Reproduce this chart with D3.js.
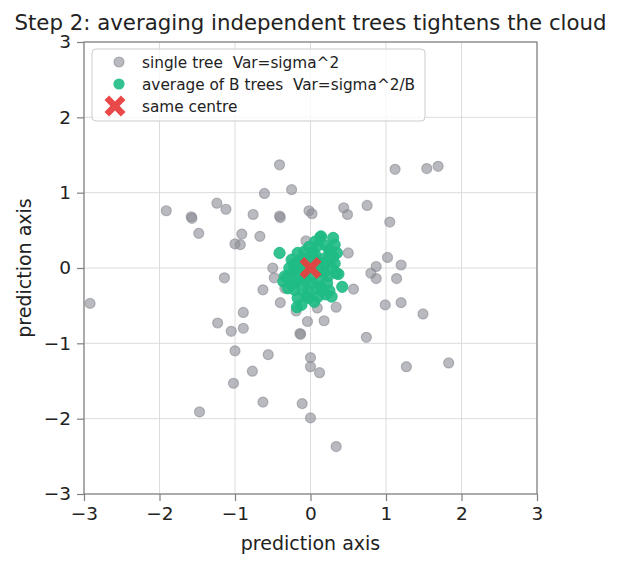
<!DOCTYPE html>
<html><head><meta charset="utf-8">
<script src="https://cdn.jsdelivr.net/npm/d3@7"></script>
<style>body{margin:0;background:#fff}svg{display:block;font-family:"DejaVu Sans",sans-serif}</style>
</head><body><svg id="c" width="620" height="567"></svg>
<script>
const singleX = [-2.92,-1.91,-1.58,-1.57,-1.48,-1.24,-1.12,-1.14,-1.00,-0.93,-0.91,-0.76,-0.67,-0.61,-0.41,-0.25,-0.41,-0.40,-0.02,0.02,-0.06,-0.50,-0.48,-0.63,-0.40,-0.19,-0.04,-0.14,-0.13,-0.89,-1.23,-1.05,-0.89,-1.00,-0.56,-0.77,-1.02,-0.63,-0.11,0.00,-1.47,0.00,0.00,0.12,0.34,1.27,1.83,0.74,1.49,1.20,0.99,0.18,0.34,0.09,0.57,1.14,0.87,0.80,1.20,0.87,1.02,0.50,1.05,0.75,0.49,0.44,1.12,1.54,1.69,-0.34];
const singleY = [-0.47,0.76,0.68,0.66,0.46,0.86,0.78,-0.13,0.32,0.31,0.45,0.71,0.42,0.99,1.37,1.04,0.69,0.67,0.76,0.72,0.36,0.00,-0.13,-0.29,-0.46,-0.57,-0.71,-0.87,-0.88,-0.59,-0.73,-0.84,-0.80,-1.10,-1.15,-1.37,-1.53,-1.78,-1.80,-1.99,-1.91,-1.19,-1.31,-1.39,-2.37,-1.31,-1.26,-0.92,-0.61,-0.46,-0.49,-0.70,-0.52,-0.53,-0.28,-0.14,-0.14,-0.07,0.04,0.02,0.14,0.20,0.61,0.83,0.71,0.80,1.31,1.32,1.35,-0.27];
const avgX = [-0.41,0.14,0.30,0.32,0.25,0.06,-0.17,-0.08,-0.25,0.32,0.34,0.37,-0.34,-0.36,-0.30,0.42,0.28,-0.17,-0.12,-0.18,0.10,0.14,-0.21,-0.03,0.23,-0.23,0.19,0.06,-0.14,0.01,-0.12,0.10,0.26,0.13,0.05,-0.05,0.12,-0.08,0.18,-0.18,0.02,0.20,-0.10,0.05,0.25,-0.28,0.30,-0.02,0.08,
  -0.20,0.22,-0.06,0.15,-0.15,0.00,0.28,-0.25,0.08,-0.02,0.18,-0.10,0.35,-0.30,0.03,0.12,-0.22,0.20,0.24,-0.05,0.10];
const avgY = [0.20,0.42,0.40,0.31,0.24,0.35,0.20,0.22,0.11,0.06,-0.07,-0.08,-0.11,-0.18,-0.27,-0.25,-0.38,-0.40,-0.49,-0.52,-0.38,-0.25,-0.29,-0.29,-0.11,-0.05,0.13,0.18,0.06,-0.11,-0.16,-0.18,0.23,0.41,0.05,-0.03,0.02,0.12,-0.05,-0.08,-0.20,0.30,-0.30,-0.45,-0.30,0.00,0.15,0.28,0.10,
  -0.20,-0.20,-0.15,-0.30,0.10,0.15,0.00,-0.22,-0.28,-0.40,0.05,0.00,0.20,-0.12,0.22,-0.05,0.05,-0.35,0.12,-0.38,0.30];
const centre = [[0.0, 0.0]];
const ticks = [-3,-2,-1,0,1,2,3];
const legendLabels = ["single tree  Var=sigma^2","average of B trees  Var=sigma^2/B","same centre"];
const titleText = "Step 2: averaging independent trees tightens the cloud";
const axisLabel = "prediction axis";

const svg = d3.select("#c");
const L=84,R=537,T=42,B=494;
const x = d3.scaleLinear().domain([-3,3]).range([L,R]);
const y = d3.scaleLinear().domain([-3,3]).range([B,T]);
const GRAY="#8a8c94", GREEN="#1fbb85", RED="#e8403f";
const fmt = d => d<0 ? "\u2212"+Math.abs(d) : String(d);

const g = svg.append("g");
g.selectAll(".gx").data(ticks).join("line").attr("x1",d=>x(d)).attr("x2",d=>x(d)).attr("y1",T).attr("y2",B).attr("stroke","#d8d8d8").attr("stroke-width",0.9);
g.selectAll(".gy").data(ticks).join("line").attr("y1",d=>y(d)).attr("y2",d=>y(d)).attr("x1",L).attr("x2",R).attr("stroke","#d8d8d8").attr("stroke-width",0.9);

svg.append("g").selectAll("circle").data(singleX.map((v,i)=>[v,singleY[i]])).join("circle")
  .attr("cx",d=>x(d[0])).attr("cy",d=>y(d[1])).attr("r",5)
  .attr("fill",GRAY).attr("fill-opacity",0.6).attr("stroke",GRAY).attr("stroke-opacity",0.6).attr("stroke-width",1.2);
svg.append("g").selectAll("circle").data(avgX.map((v,i)=>[v,avgY[i]])).join("circle")
  .attr("cx",d=>x(d[0])).attr("cy",d=>y(d[1])).attr("r",5.6)
  .attr("fill",GREEN).attr("fill-opacity",0.9).attr("stroke",GREEN).attr("stroke-opacity",0.9).attr("stroke-width",1);

function xPath(s){
  const a=s*0.44;
  const p=[[-s,-s+a],[-s+a,-s],[0,-a],[s-a,-s],[s,-s+a],[a,0],[s,s-a],[s-a,s],[0,a],[-s+a,s],[-s,s-a],[-a,0]];
  return "M"+p.map(q=>q.join(",")).join("L")+"Z";
}
svg.append("g").selectAll("path").data(centre).join("path")
  .attr("transform",d=>`translate(${x(d[0])},${y(d[1])})`).attr("d",xPath(11)).attr("fill",RED).attr("fill-opacity",0.95);

svg.append("rect").attr("x",L).attr("y",T).attr("width",R-L).attr("height",B-T).attr("fill","none").attr("stroke","#7f7f7f").attr("stroke-width",1.2);

const xa = svg.append("g").attr("transform",`translate(0,${B})`).call(d3.axisBottom(x).tickValues(ticks).tickFormat(fmt).tickSize(7).tickPadding(6));
const ya = svg.append("g").attr("transform",`translate(${L},0)`).call(d3.axisLeft(y).tickValues(ticks).tickFormat(fmt).tickSize(7).tickPadding(6));
[xa,ya].forEach(a=>{a.select(".domain").remove();a.selectAll("line").attr("stroke","#7f7f7f").attr("stroke-width",1.2);
  a.selectAll("text").attr("font-size",18.5).attr("fill","#222").attr("font-family","DejaVu Sans");});

svg.append("text").attr("x",(L+R)/2).attr("y",550).attr("text-anchor","middle").attr("font-size",19).attr("fill","#222").text(axisLabel);
svg.append("text").attr("transform",`translate(31,${(T+B)/2}) rotate(-90)`).attr("text-anchor","middle").attr("font-size",19).attr("fill","#222").text(axisLabel);
svg.append("text").attr("x",(L+R)/2).attr("y",30).attr("text-anchor","middle").attr("font-size",21.3).attr("fill","#222").text(titleText);

const lg = svg.append("g");
lg.append("rect").attr("x",92).attr("y",49).attr("width",333).attr("height",72).attr("rx",4)
  .attr("fill","#fff").attr("fill-opacity",0.8).attr("stroke","#cccccc").attr("stroke-width",1);
const rows=[62,84,106];
lg.append("circle").attr("cx",119).attr("cy",rows[0]).attr("r",5).attr("fill",GRAY).attr("fill-opacity",0.6).attr("stroke",GRAY).attr("stroke-opacity",0.6).attr("stroke-width",1.2);
lg.append("circle").attr("cx",119).attr("cy",rows[1]).attr("r",5.6).attr("fill",GREEN).attr("fill-opacity",0.9);
lg.append("path").attr("transform",`translate(115,${rows[2]})`).attr("d",xPath(10.5)).attr("fill",RED).attr("fill-opacity",0.95);
lg.selectAll("text").data(legendLabels).join("text").attr("x",142).attr("y",(d,i)=>rows[i]+5.5)
  .attr("font-size",15.3).attr("fill","#222").style("white-space","pre").attr("xml:space","preserve").text(d=>d);
</script></body></html>
